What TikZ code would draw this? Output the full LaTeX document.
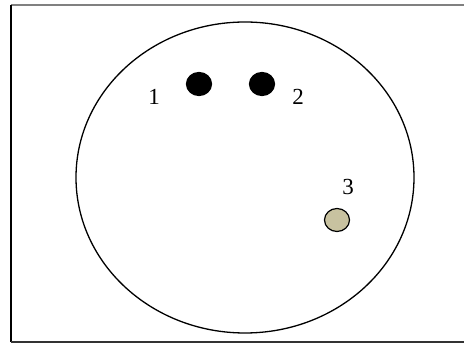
\documentclass[tikz,border=0pt]{standalone}
\usepackage{fontspec}
\setmainfont{Liberation Serif}
\usetikzlibrary{shapes.geometric, positioning}
\definecolor{sand}{HTML}{C8C2A0}
\definecolor{frame}{HTML}{333333}

\tikzset{
  spot/.style={ellipse, draw=black, line width=1.2pt, minimum width=25pt, minimum height=23pt, inner sep=0pt},
  tag/.style={font=\fontsize{23}{23}\selectfont, inner sep=0pt}
}

\begin{document}
\begin{tikzpicture}[x=1pt, y=-1pt]
  \useasboundingbox (0,0) rectangle (464,344);
  % frame
  \draw[gray, line width=1.2pt] (11,5) -- (464,5);
  \draw[black, line width=1.5pt] (11,5) -- (11,342);
  \draw[frame, line width=1.2pt] (11,342) -- (464,342);
  % field
  \node[ellipse, draw, line width=1.3pt, minimum width=338pt, minimum height=311pt, inner sep=0pt] (field) at (245,177.5) {};
  % spots
  \node[spot, fill=black] (s1) at (199,84) {};
  \node[spot, fill=black] (s2) at (262,84) {};
  \node[spot, fill=sand] (s3) at (337,220) {};
  % labels
  \node[tag] (l1) at (154,97) {1};
  \node[tag] (l2) at (298,97) {2};
  \node[tag] (l3) at (348,187) {3};
\end{tikzpicture}
\end{document}
